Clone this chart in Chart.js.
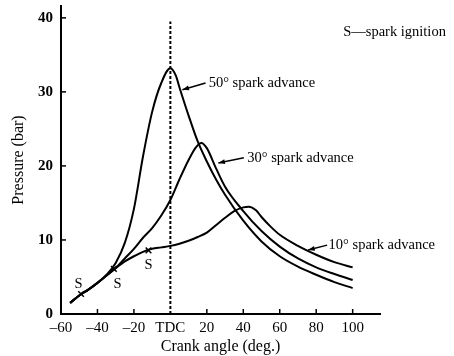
<!DOCTYPE html>
<html>
<head>
<meta charset="utf-8">
<script src="https://cdn.jsdelivr.net/npm/chart.js@4.4.0/dist/chart.umd.min.js"></script>
<style>
html, body { margin: 0; padding: 0; background: #fff; }
</style>
</head>
<body>
<canvas id="myChart" width="454" height="356"></canvas>
<script>
// crank angle (deg) and cylinder pressure (bar)
const angles50 = [-55, -50, -45, -40, -35, -30, -25, -20, -15, -10, -5, 0, 3, 5, 10, 15, 20, 25, 30, 40, 50, 60, 70, 80, 90, 100];
const pressure50 = [1.5, 2.5, 3.3, 4.2, 5.3, 6.9, 9.6, 14.2, 21.3, 27.3, 31.2, 33.2, 32.2, 30.6, 26.8, 23.3, 20.6, 18.2, 16.1, 12.6, 9.8, 7.8, 6.4, 5.3, 4.3, 3.5];

const angles30 = [-55, -50, -45, -40, -35, -30, -25, -20, -15, -10, -5, 0, 5, 10, 14, 17, 20, 25, 30, 40, 50, 60, 70, 80, 90, 100];
const pressure30 = [1.5, 2.5, 3.3, 4.2, 5.2, 6.2, 7.5, 8.8, 10.3, 11.6, 13.3, 15.4, 18.2, 20.8, 22.5, 23.1, 22.4, 19.7, 17.2, 13.9, 11.2, 9.1, 7.5, 6.3, 5.4, 4.6];

const angles10 = [-55, -50, -45, -40, -35, -30, -25, -20, -15, -10, -5, 0, 5, 10, 15, 20, 25, 30, 35, 40, 43, 47, 50, 55, 60, 70, 80, 90, 100];
const pressure10 = [1.5, 2.5, 3.3, 4.2, 5.2, 6.2, 7.1, 7.8, 8.4, 8.8, 9.0, 9.2, 9.5, 9.9, 10.4, 11.0, 12.0, 13.0, 13.9, 14.4, 14.5, 14.0, 13.1, 11.8, 10.7, 9.2, 8.0, 7.0, 6.3];

// spark ignition points
const sparkAngles = [-49, -31, -12];
const sparkPressures = [2.7, 6.1, 8.6];

const xTicks = [-60, -40, -20, 0, 20, 40, 60, 80, 100];
const yTicks = [0, 10, 20, 30, 40];

const serif = '"Liberation Serif", "DejaVu Serif", serif';

function pts(xs, ys) {
    return xs.map((v, i) => ({x: v, y: ys[i]}));
}

// text notes, placed in data coordinates
const notes = [
    {text: 'S', x: -50.4, y: 4.0, align: 'center'},
    {text: 'S', x: -29, y: 4.0, align: 'center'},
    {text: 'S', x: -12, y: 6.6, align: 'center'},
    {text: '50° spark advance', x: 21, y: 31.2, align: 'left', from: [6.6, 30.3], to: [19.3, 31.2]},
    {text: '30° spark advance', x: 42.2, y: 21.1, align: 'left', from: [26.3, 20.4], to: [40.3, 21.1]},
    {text: '10° spark advance', x: 86.8, y: 9.3, align: 'left', from: [75.6, 8.65], to: [86, 9.3]},
    {text: 'S\u2014spark ignition', x: 94.8, y: 38, align: 'left'}
];

const notesPlugin = {
    id: 'notes',
    afterDraw(chart) {
        const ctx = chart.ctx;
        const xs = chart.scales.x, ys = chart.scales.y;
        ctx.save();
        ctx.strokeStyle = '#000';
        ctx.fillStyle = '#000';
        // inward tick marks
        ctx.lineWidth = 1.5;
        xTicks.forEach(v => {
            if (v === -60 || v === 0) return;
            const px = xs.getPixelForValue(v);
            ctx.beginPath();
            ctx.moveTo(px, ys.bottom);
            ctx.lineTo(px, ys.bottom - 5);
            ctx.stroke();
        });
        yTicks.forEach(v => {
            if (v === 0) return;
            const py = ys.getPixelForValue(v);
            ctx.beginPath();
            ctx.moveTo(xs.left, py);
            ctx.lineTo(xs.left + 5, py);
            ctx.stroke();
        });
        ctx.font = '14.5px ' + serif;
        ctx.textBaseline = 'middle';
        notes.forEach(n => {
            if (n.from) {
                const x1 = xs.getPixelForValue(n.from[0]), y1 = ys.getPixelForValue(n.from[1]);
                const x2 = xs.getPixelForValue(n.to[0]), y2 = ys.getPixelForValue(n.to[1]);
                ctx.lineWidth = 1.5;
                ctx.beginPath();
                ctx.moveTo(x1, y1);
                ctx.lineTo(x2, y2);
                ctx.stroke();
                // arrow head at the curve end
                const a = Math.atan2(y1 - y2, x1 - x2);
                ctx.beginPath();
                ctx.moveTo(x1, y1);
                ctx.lineTo(x1 - 7 * Math.cos(a - 0.35), y1 - 7 * Math.sin(a - 0.35));
                ctx.lineTo(x1 - 7 * Math.cos(a + 0.35), y1 - 7 * Math.sin(a + 0.35));
                ctx.closePath();
                ctx.fill();
            }
            ctx.textAlign = n.align;
            ctx.fillText(n.text, xs.getPixelForValue(n.x), ys.getPixelForValue(n.y));
        });
        ctx.restore();
    }
};

function curve(data) {
    return {
        data: data,
        borderColor: '#000',
        borderWidth: 2,
        pointRadius: 0,
        fill: false,
        cubicInterpolationMode: 'monotone'
    };
}

const ctx = document.getElementById('myChart').getContext('2d');
const myChart = new Chart(ctx, {
    type: 'line',
    data: {
        datasets: [
            curve(pts(angles50, pressure50)),
            curve(pts(angles30, pressure30)),
            curve(pts(angles10, pressure10)),
            {
                // TDC marker
                data: [{x: 0, y: 0}, {x: 0, y: 39.5}],
                borderColor: '#000',
                borderWidth: 2,
                borderDash: [3, 2],
                pointRadius: 0
            },
            {
                data: pts(sparkAngles, sparkPressures),
                showLine: false,
                pointStyle: 'crossRot',
                pointRadius: 4,
                borderColor: '#000',
                borderWidth: 1.5
            }
        ]
    },
    options: {
        responsive: false,
        animation: false,
        layout: {padding: {left: 0, right: 74, top: 6, bottom: 0}},
        plugins: {
            legend: {display: false},
            tooltip: {enabled: false}
        },
        scales: {
            x: {
                type: 'linear',
                min: -60,
                max: 115,
                grid: {display: false, drawTicks: false, tickLength: 0},
                border: {color: '#000', width: 2},
                afterFit: s => { s.height = 42; s.paddingLeft = 0; s.paddingRight = 0; },
                afterBuildTicks: s => { s.ticks = xTicks.map(v => ({value: v})); },
                ticks: {
                    color: '#000',
                    padding: 5,
                    font: {family: serif, size: 15},
                    callback: v => v === 0 ? 'TDC' : (v < 0 ? '\u2013' + (-v) : v)
                },
                title: {
                    display: true,
                    text: 'Crank angle (deg.)',
                    color: '#000',
                    font: {family: serif, size: 16},
                    padding: {top: 0, bottom: 0}
                }
            },
            y: {
                min: 0,
                max: 41.6,
                grid: {display: false, drawTicks: false, tickLength: 0},
                border: {color: '#000', width: 2},
                afterFit: s => { s.width = 61; s.paddingTop = 0; s.paddingBottom = 0; },
                afterBuildTicks: s => { s.ticks = yTicks.map(v => ({value: v})); },
                ticks: {
                    color: '#000',
                    padding: 8,
                    font: {family: serif, size: 15, weight: 'bold'}
                },
                title: {
                    display: true,
                    text: 'Pressure (bar)',
                    color: '#000',
                    font: {family: serif, size: 16},
                    padding: {top: 9, bottom: 0}
                }
            }
        }
    },
    plugins: [notesPlugin]
});
</script>
</body>
</html>
